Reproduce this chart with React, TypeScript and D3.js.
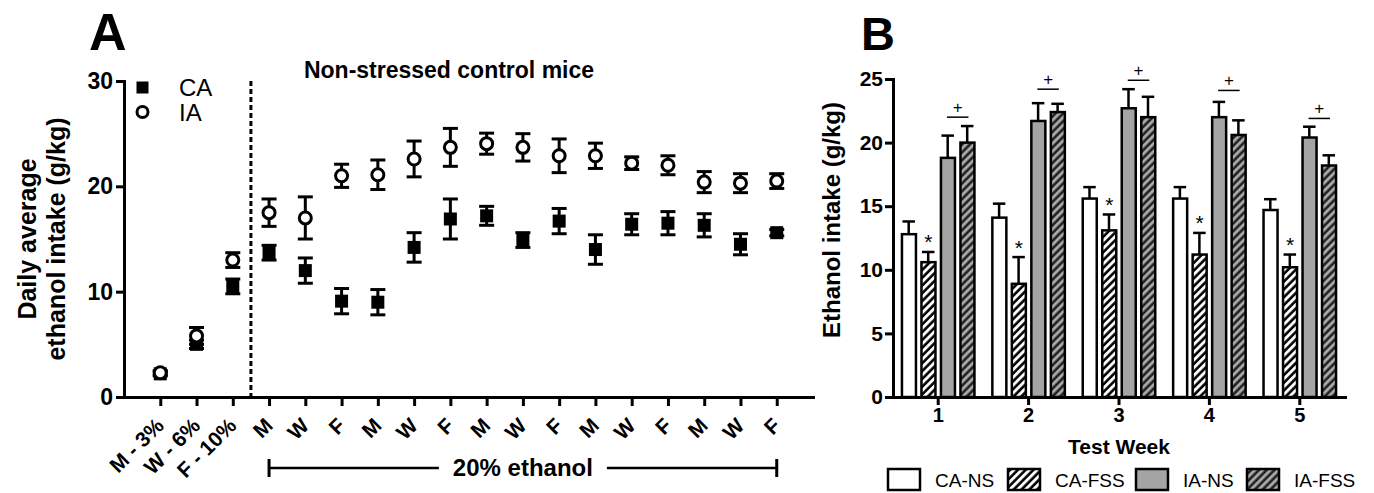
import React, { useEffect, useRef } from "react";
import * as d3 from "d3";

// ---- panel A : daily average intake, non-stressed controls ----
const phaseLabels = ["M - 3%", "W - 6%", "F - 10%", "M", "W", "F", "M", "W", "F", "M", "W", "F", "M", "W", "F", "M", "W", "F"];
const caMeans = [2.2, 5.0, 10.5, 13.7, 12.0, 9.1, 9.0, 14.2, 16.9, 17.2, 14.9, 16.7, 14.0, 16.4, 16.5, 16.3, 14.5, 15.6];
const caErrs = [0.2, 0.4, 0.7, 0.7, 1.2, 1.2, 1.2, 1.4, 1.9, 0.9, 0.7, 1.2, 1.4, 1.0, 1.1, 1.1, 1.0, 0.3];
const iaMeans = [2.3, 5.8, 13.0, 17.5, 17.0, 21.0, 21.1, 22.6, 23.7, 24.05, 23.7, 22.9, 22.9, 22.2, 22.0, 20.4, 20.3, 20.5];
const iaErrs = [0.2, 0.8, 0.7, 1.3, 2.0, 1.1, 1.4, 1.7, 1.8, 1.0, 1.3, 1.6, 1.2, 0.6, 0.9, 1.0, 0.9, 0.7];
const yTicksA = [0, 10, 20, 30];

// ---- panel B : weekly intake by group ----
const testWeeks = ["1", "2", "3", "4", "5"];
const groupNames = ["CA-NS", "CA-FSS", "IA-NS", "IA-FSS"];
const caNsMeans = [12.8, 14.1, 15.6, 15.6, 14.7];
const caNsErrs = [1.0, 1.1, 0.9, 0.9, 0.85];
const caFssMeans = [10.6, 8.9, 13.1, 11.2, 10.2];
const caFssErrs = [0.8, 2.1, 1.25, 1.7, 1.0];
const iaNsMeans = [18.8, 21.7, 22.7, 22.0, 20.4];
const iaNsErrs = [1.75, 1.4, 1.5, 1.2, 0.85];
const iaFssMeans = [20.0, 22.4, 22.0, 20.6, 18.2];
const iaFssErrs = [1.3, 0.65, 1.6, 1.15, 0.8];
const plusLevels = [22.0, 24.2, 24.9, 24.1, 21.9]; // height of the "+" bracket
const yTicksB = [0, 5, 10, 15, 20, 25];

const FONT = "'Liberation Sans', Arial, Helvetica, sans-serif";

const groupFill: Record<string, string> = {
  "CA-NS": "#ffffff",
  "CA-FSS": "url(#hatchWhite)",
  "IA-NS": "#a4a4a4",
  "IA-FSS": "url(#hatchGray)",
};

function styleAxis(g: any, size: number) {
  g.attr("font-family", FONT).attr("font-size", size).attr("font-weight", "bold");
  g.selectAll("path.domain").attr("stroke", "#000").attr("stroke-width", 3).attr("stroke-linecap", "square");
  g.selectAll(".tick line").attr("stroke", "#000").attr("stroke-width", 3);
  g.selectAll(".tick text").attr("fill", "#000");
}

function drawPanelA(svg: any) {
  const xA = d3.scaleLinear().domain([-1, phaseLabels.length]).range([124, 813]);
  const yA = d3.scaleLinear().domain([0, 30]).range([397, 81]);
  const g = svg.append("g");

  g.append("text").attr("x", 89).attr("y", 50).attr("font-size", 52).attr("font-weight", "bold").text("A");

  // axes
  const ya = g.append("g").attr("transform", "translate(124,0)")
    .call(d3.axisLeft(yA).tickValues(yTicksA).tickSize(8).tickSizeOuter(0).tickPadding(3));
  styleAxis(ya, 23);

  const xa = g.append("g").attr("transform", "translate(0,397)")
    .call(d3.axisBottom(xA).tickValues(d3.range(phaseLabels.length)).tickSize(9).tickSizeOuter(0).tickFormat(() => ""));
  styleAxis(xa, 20);

  g.selectAll("text.phase")
    .data(phaseLabels)
    .enter()
    .append("text")
    .attr("class", "phase")
    .attr("transform", (d: string, i: number) => `translate(${xA(i) + 5},427) rotate(-45)`)
    .attr("text-anchor", "end")
    .attr("font-size", 21)
    .attr("font-weight", "bold")
    .text((d: string) => d);

  // axis title
  const title = g.append("text")
    .attr("transform", `translate(0,${(yA(0) + yA(30)) / 2}) rotate(-90)`)
    .attr("text-anchor", "middle")
    .attr("font-size", 25)
    .attr("font-weight", "bold");
  title.append("tspan").attr("x", 0).attr("y", 36).text("Daily average");
  title.append("tspan").attr("x", 0).attr("y", 65).text("ethanol intake (g/kg)");

  // divider between ramp and 20% phase
  g.append("line")
    .attr("x1", xA(2.5)).attr("x2", xA(2.5))
    .attr("y1", yA(30)).attr("y2", yA(0))
    .attr("stroke", "#000").attr("stroke-width", 3).attr("stroke-dasharray", "5,3");

  g.append("text").attr("x", 449).attr("y", 78).attr("text-anchor", "middle")
    .attr("font-size", 23).attr("font-weight", "bold").text("Non-stressed control mice");

  // 20% ethanol bracket
  const bx1 = xA(3), bx2 = xA(17), mid = (bx1 + bx2) / 2;
  g.append("line").attr("x1", bx1).attr("x2", mid - 84).attr("y1", 468).attr("y2", 468).attr("stroke", "#000").attr("stroke-width", 2.5);
  g.append("line").attr("x1", mid + 84).attr("x2", bx2).attr("y1", 468).attr("y2", 468).attr("stroke", "#000").attr("stroke-width", 2.5);
  [bx1, bx2].forEach((x) => {
    g.append("line").attr("x1", x).attr("x2", x).attr("y1", 459).attr("y2", 477).attr("stroke", "#000").attr("stroke-width", 3);
  });
  g.append("text").attr("x", mid).attr("y", 476).attr("text-anchor", "middle")
    .attr("font-size", 24).attr("font-weight", "bold").text("20% ethanol");

  // points with SEM
  const series = [
    { means: caMeans, errs: caErrs, kind: "square" },
    { means: iaMeans, errs: iaErrs, kind: "circle" },
  ];
  series.forEach((s) => {
    const sg = g.append("g");
    s.means.forEach((m, i) => {
      const x = xA(i), lo = yA(m - s.errs[i]), hi = yA(m + s.errs[i]);
      sg.append("line").attr("x1", x).attr("x2", x).attr("y1", lo).attr("y2", hi).attr("stroke", "#000").attr("stroke-width", 3);
      [lo, hi].forEach((y) => {
        sg.append("line").attr("x1", x - 7.5).attr("x2", x + 7.5).attr("y1", y).attr("y2", y).attr("stroke", "#000").attr("stroke-width", 3);
      });
    });
    if (s.kind === "square") {
      sg.selectAll("rect").data(s.means).enter().append("rect")
        .attr("x", (d: number, i: number) => xA(i) - 6.5)
        .attr("y", (d: number) => yA(d) - 6.5)
        .attr("width", 13).attr("height", 13).attr("fill", "#000");
    } else {
      sg.selectAll("circle").data(s.means).enter().append("circle")
        .attr("cx", (d: number, i: number) => xA(i))
        .attr("cy", (d: number) => yA(d))
        .attr("r", 6).attr("fill", "#fff").attr("stroke", "#000").attr("stroke-width", 3);
    }
  });

  // legend
  g.append("rect").attr("x", 136.5).attr("y", 81.5).attr("width", 12).attr("height", 12).attr("fill", "#000");
  g.append("circle").attr("cx", 142.5).attr("cy", 112).attr("r", 5.5).attr("fill", "#fff").attr("stroke", "#000").attr("stroke-width", 3);
  g.append("text").attr("x", 179).attr("y", 96).attr("font-size", 24).text("CA");
  g.append("text").attr("x", 179).attr("y", 121).attr("font-size", 24).text("IA");
}

function drawPanelB(svg: any) {
  const yB = d3.scaleLinear().domain([0, 25]).range([397, 79]);
  const x0 = d3.scaleBand().domain(testWeeks).range([893, 1345]);
  const groupSpan = 78;
  const x1 = d3.scaleBand().domain(groupNames).range([0, groupSpan]);
  const g = svg.append("g");

  g.append("text").attr("x", 861).attr("y", 50).attr("font-size", 47).attr("font-weight", "bold").text("B");

  const means = [caNsMeans, caFssMeans, iaNsMeans, iaFssMeans];
  const errs = [caNsErrs, caFssErrs, iaNsErrs, iaFssErrs];
  const barX = (w: string, k: number) => (x0(w) as number) + (x0.bandwidth() - groupSpan) / 2 + (x1(groupNames[k]) as number);
  const bw = x1.bandwidth();

  // bars + one-sided error bars
  groupNames.forEach((name, k) => {
    const bg = g.append("g");
    bg.selectAll("line.err").data(testWeeks).enter().append("line")
      .attr("x1", (w: string) => barX(w, k) + bw / 2 - 0.25)
      .attr("x2", (w: string) => barX(w, k) + bw / 2 - 0.25)
      .attr("y1", (w: string, i: number) => yB(means[k][i]))
      .attr("y2", (w: string, i: number) => yB(means[k][i] + errs[k][i]))
      .attr("stroke", "#000").attr("stroke-width", 2.5);
    bg.selectAll("line.cap").data(testWeeks).enter().append("line")
      .attr("x1", (w: string) => barX(w, k) + bw / 2 - 6.5)
      .attr("x2", (w: string) => barX(w, k) + bw / 2 + 6)
      .attr("y1", (w: string, i: number) => yB(means[k][i] + errs[k][i]))
      .attr("y2", (w: string, i: number) => yB(means[k][i] + errs[k][i]))
      .attr("stroke", "#000").attr("stroke-width", 2.5);
    bg.selectAll("rect").data(testWeeks).enter().append("rect")
      .attr("x", (w: string) => barX(w, k) + 2.75)
      .attr("y", (w: string, i: number) => yB(means[k][i]))
      .attr("width", bw - 5.5)
      .attr("height", (w: string, i: number) => yB(0) - yB(means[k][i]))
      .attr("fill", groupFill[name])
      .attr("stroke", "#000").attr("stroke-width", 2.5);
  });

  // significance marks
  testWeeks.forEach((w, i) => {
    const sx = barX(w, 1) + bw / 2;
    g.append("text").attr("x", sx).attr("y", yB(caFssMeans[i] + caFssErrs[i]) - 2.5)
      .attr("text-anchor", "middle").attr("font-size", 21).text("*");
    const px1 = barX(w, 2) + bw / 2 - 1, px2 = barX(w, 3) + bw / 2 + 1;
    const py = yB(plusLevels[i]);
    g.append("line").attr("x1", px1).attr("x2", px2).attr("y1", py).attr("y2", py).attr("stroke", "#000").attr("stroke-width", 1.5);
    g.append("text").attr("x", (px1 + px2) / 2).attr("y", py - 4.5)
      .attr("text-anchor", "middle").attr("font-size", 17).text("+");
  });

  const ya = g.append("g").attr("transform", "translate(893,0)")
    .call(d3.axisLeft(yB).tickValues(yTicksB).tickSize(8).tickSizeOuter(0).tickPadding(2));
  styleAxis(ya, 21);
  const xa = g.append("g").attr("transform", "translate(0,397)")
    .call(d3.axisBottom(x0).tickSize(8).tickSizeOuter(0).tickPadding(3));
  styleAxis(xa, 20);

  g.append("text")
    .attr("transform", `translate(840,${(yB(0) + yB(25)) / 2 - 18}) rotate(-90)`)
    .attr("text-anchor", "middle").attr("font-size", 24).attr("font-weight", "bold")
    .text("Ethanol intake (g/kg)");
  g.append("text").attr("x", 1119).attr("y", 454).attr("text-anchor", "middle")
    .attr("font-size", 21).attr("font-weight", "bold").text("Test Week");

  // legend
  const legendBoxX = [888, 1008, 1136, 1247];
  groupNames.forEach((name, k) => {
    g.append("rect").attr("x", legendBoxX[k]).attr("y", 469).attr("width", 32).attr("height", 21)
      .attr("fill", groupFill[name]).attr("stroke", "#000").attr("stroke-width", 2.5);
    g.append("text").attr("x", legendBoxX[k] + 47).attr("y", 487).attr("font-size", 19).text(name);
  });
}

export default function App() {
  const ref = useRef<SVGSVGElement>(null);

  useEffect(() => {
    const svg = d3.select(ref.current);
    svg.selectAll("*").remove();

    const defs = svg.append("defs");
    const hw = defs.append("pattern").attr("id", "hatchWhite").attr("patternUnits", "userSpaceOnUse")
      .attr("width", 5.5).attr("height", 5.5).attr("patternTransform", "rotate(45)");
    hw.append("rect").attr("width", 5.5).attr("height", 5.5).attr("fill", "#fff");
    hw.append("line").attr("x1", 1.5).attr("x2", 1.5).attr("y1", 0).attr("y2", 5.5).attr("stroke", "#000").attr("stroke-width", 2.6);
    const hg = defs.append("pattern").attr("id", "hatchGray").attr("patternUnits", "userSpaceOnUse")
      .attr("width", 5.5).attr("height", 5.5).attr("patternTransform", "rotate(45)");
    hg.append("rect").attr("width", 5.5).attr("height", 5.5).attr("fill", "#9a9a9a");
    hg.append("line").attr("x1", 1.5).attr("x2", 1.5).attr("y1", 0).attr("y2", 5.5).attr("stroke", "#1a1a1a").attr("stroke-width", 2.3);
    hg.append("line").attr("x1", 4.2).attr("x2", 4.2).attr("y1", 0).attr("y2", 5.5).attr("stroke", "#c8c8c8").attr("stroke-width", 0.5);

    drawPanelA(svg);
    drawPanelB(svg);
  }, []);

  return (
    <div>
      <style>{"body{margin:0;background:#fff}"}</style>
      <svg ref={ref} width={1374} height={493} style={{ display: "block", fontFamily: FONT }} />
    </div>
  );
}
